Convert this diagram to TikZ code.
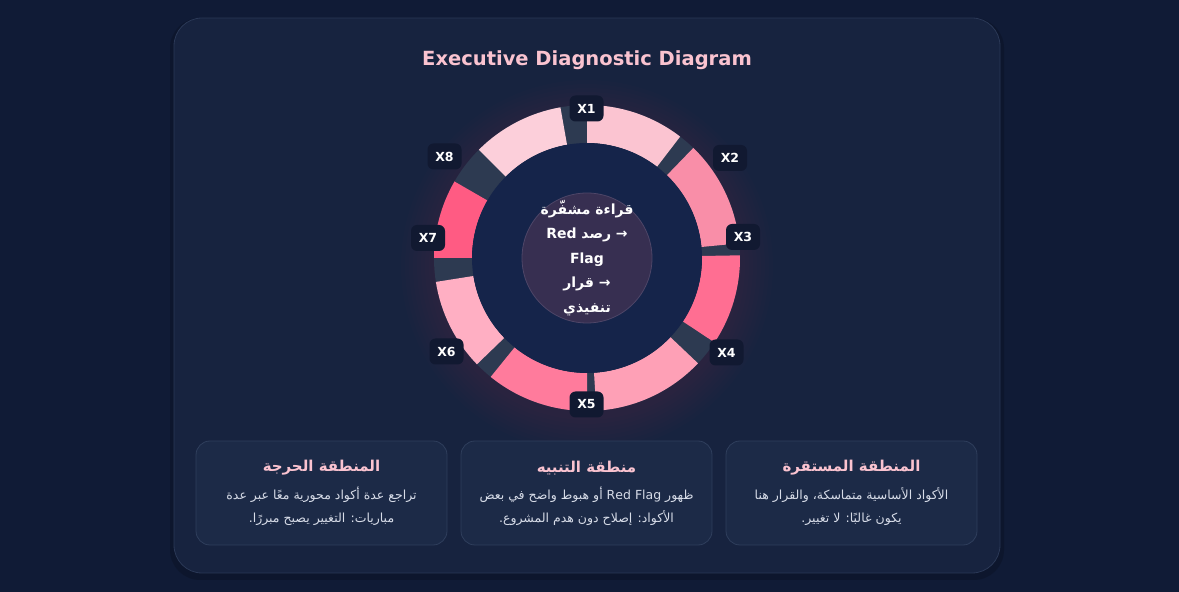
\documentclass[tikz,border=0pt]{standalone}
\usepackage{fontspec}
\setmainfont{DejaVu Sans}
\newfontfamily\arabicfont[Script=Arabic]{DejaVu Sans}
\TeXXeTstate=1
\usetikzlibrary{positioning}

\definecolor{pagebg}{HTML}{101B36}
\definecolor{cardbg}{HTML}{17233F}
\definecolor{cardline}{HTML}{2A3856}
\definecolor{panelbg}{HTML}{1C2A47}
\definecolor{panelline}{HTML}{2F3E5C}
\definecolor{titlepink}{HTML}{FAC3D0}
\definecolor{bodygray}{HTML}{D7DCE8}
\definecolor{gapcol}{HTML}{2D3A51}
\definecolor{hubbg}{HTML}{15244A}
\definecolor{corefill}{HTML}{372F51}
\definecolor{coreline}{HTML}{4E4668}
\definecolor{tagbg}{HTML}{111931}
\definecolor{glow}{HTML}{FF6F91}
\definecolor{segA}{HTML}{FBC4D1}
\definecolor{segB}{HTML}{F98EA8}
\definecolor{segC}{HTML}{FF6E92}
\definecolor{segD}{HTML}{FEA0B6}
\definecolor{segE}{HTML}{FF7B9C}
\definecolor{segF}{HTML}{FFAFC3}
\definecolor{segG}{HTML}{FF5B83}
\definecolor{segH}{HTML}{FCCFDA}

\tikzset{
	tag/.style = {fill = tagbg, rounded corners = 6pt, minimum width = 34pt,
		minimum height = 26pt, inner sep = 0pt, text = white,
		font = \bfseries\fontsize{12.5}{12.5}\selectfont},
	panel/.style = {fill = panelbg, draw = panelline, line width = 0.8pt,
		rounded corners = 14pt, minimum width = 251pt, minimum height = 104pt},
	paneltitle/.style = {text = titlepink, font = \arabicfont\bfseries\fontsize{15}{15}\selectfont},
	panelbody/.style = {text = bodygray, align = center,
		font = \arabicfont\fontsize{12.5}{23}\selectfont}
}

\begin{document}
\begin{tikzpicture}[x = 1pt, y = 1pt]

	% Page and card

	\fill [pagebg] (0, 0) rectangle (1179, 592);
	\useasboundingbox (0, 0) rectangle (1179, 592);
	\fill [black, opacity = 0.15, rounded corners = 30pt] (170, 12) rectangle (1004, 574);
	\draw [fill = cardbg, draw = cardline, line width = 0.8pt, rounded corners = 28pt]
		(174, 19) rectangle (1000, 574);

	% Title

	\node [text = titlepink, font = \bfseries\fontsize{19.5}{19.5}\selectfont] (title)
		at (587, 532) {Executive Diagnostic Diagram};

	% Glow behind the ring

	\foreach \r in {154, 158, ..., 186}
		\fill [glow, opacity = 0.012] (587, 326) circle (\r);

	% Ring: gaps first, then the segments (bearing from / to / colour)

	\fill [gapcol] (587, 334) circle (153);
	\foreach \a/\b/\c in {0/37.5/segA, 44/84.5/segB, 89/123.5/segC, 133.5/176.5/segD,
			180/219/segE, 226/261/segF, 270/300/segG, 315/350/segH}
		\fill [\c, shift = {(587, 334)}] (90 - \a : 153)
			arc [start angle = 90 - \a, end angle = 90 - \b, radius = 153]
			-- (90 - \b : 115)
			arc [start angle = 90 - \b, end angle = 90 - \a, radius = 115] -- cycle;

	% Hub

	\fill [hubbg] (587, 334) circle (115);
	\node [circle, fill = corefill, draw = coreline, line width = 0.8pt,
		minimum size = 130pt] (core) at (587, 334) {};
	\node [text = white, align = center,
		font = \arabicfont\bfseries\fontsize{14}{24.5}\selectfont] (reading) at (core.center)
		{\beginR قراءة مشفّرة\endR\\
		 \beginR → رصد \beginL Red\endL\endR\\
		 Flag\\
		 \beginR → قرار\endR\\
		 \beginR تنفيذي\endR};

	% Tags

	\foreach \n/\p in {1/{(586.5, 483.5)}, 2/{(730, 434)}, 3/{(743, 355)},
			4/{(726.5, 239.5)}, 5/{(586.5, 187.5)}, 6/{(446.5, 240.5)},
			7/{(428, 354)}, 8/{(444.5, 435.5)}}
		\node [tag] (x\n) at \p {X\n};

	% Zones

	\node [panel] (critical) at (321.5, 99) {};
	\node [panel] (warning) at (586.5, 99) {};
	\node [panel] (stable) at (851.5, 99) {};

	\node [paneltitle] (critical title) at (321.5, 124) {\beginR المنطقة الحرجة\endR};
	\node [panelbody] (critical body) at (321.5, 85.5)
		{\beginR تراجع عدة أكواد محورية معًا عبر عدة\endR\\
		 \beginR مباريات: التغيير يصبح مبررًا.\endR};

	\node [paneltitle] (warning title) at (586.5, 124) {\beginR منطقة التنبيه\endR};
	\node [panelbody] (warning body) at (586.5, 85.5)
		{\beginR ظهور \beginL Red Flag\endL{} أو هبوط واضح في بعض\endR\\
		 \beginR الأكواد: إصلاح دون هدم المشروع.\endR};

	\node [paneltitle] (stable title) at (851.5, 124) {\beginR المنطقة المستقرة\endR};
	\node [panelbody] (stable body) at (851.5, 85.5)
		{\beginR الأكواد الأساسية متماسكة، والقرار هنا\endR\\
		 \beginR يكون غالبًا: لا تغيير.\endR};

\end{tikzpicture}
\end{document}
